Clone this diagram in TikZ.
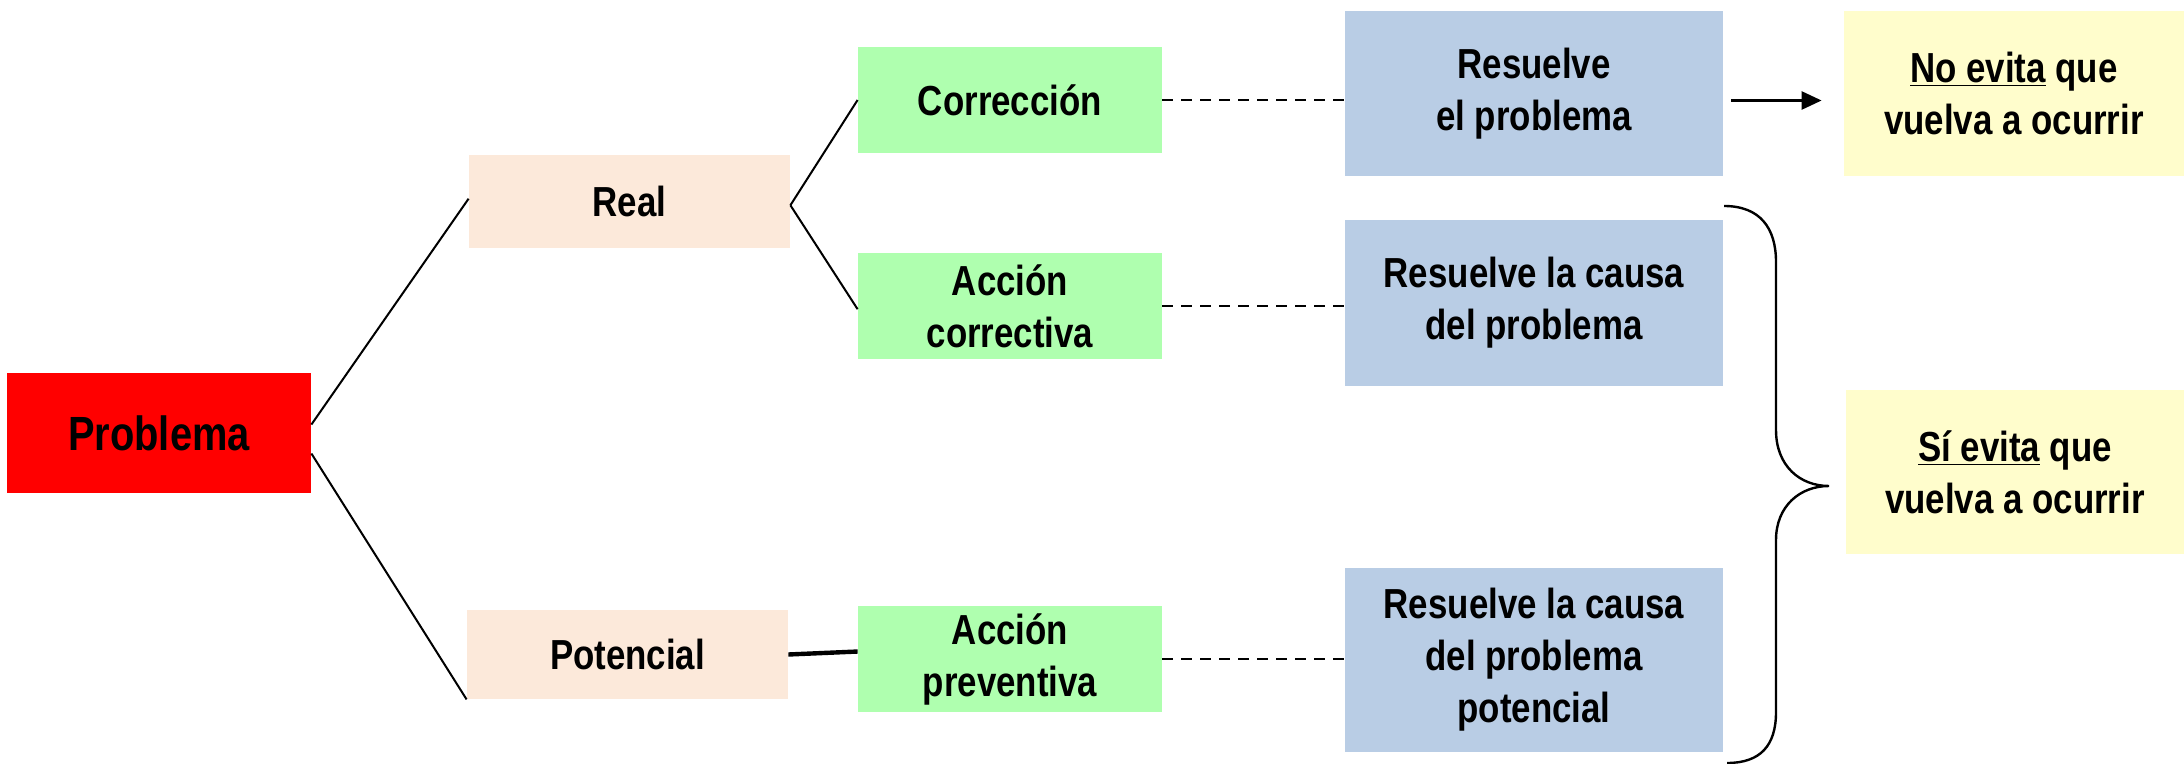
\documentclass[tikz,border=0pt]{standalone}
\usepackage{fontspec}
\setmainfont{Liberation Sans}[FakeStretch=0.83]
\usetikzlibrary{calc,arrows.meta}
\definecolor{cred}{HTML}{FF0000}
\definecolor{cpeach}{HTML}{FCE9DA}
\definecolor{cgreen}{HTML}{AFFFAF}
\definecolor{cblue}{HTML}{B9CDE5}
\definecolor{cyellow}{HTML}{FFFDCC}
\tikzset{
  box/.style={inner sep=0pt, align=center, font=\bfseries\fontsize{21}{26}\selectfont},
  link/.style={line width=1pt, black},
  dotlink/.style={line width=1.4pt, black, dash pattern=on 5.5pt off 4pt},
}
\begin{document}
\begin{tikzpicture}[x=0.5pt,y=-0.5pt]
\useasboundingbox (0,0) rectangle (2184,764);
% nodes
\node[box, fill=cred, minimum width=152pt, minimum height=60pt, font=\bfseries\fontsize{24}{28}\selectfont] (prob) at (159,433) {Problema};
\node[box, fill=cpeach, minimum width=160.5pt, minimum height=46.5pt] (real) at (629.5,201.5) {Real};
\node[box, fill=cpeach, minimum width=160.5pt, minimum height=44.5pt] (pot) at (627.5,654.5) {Potencial};
\node[box, fill=cgreen, minimum width=152pt, minimum height=53pt] (corr) at (1010,100) {Corrección};
\node[box, fill=cgreen, minimum width=152pt, minimum height=53pt] (acor) at (1010,306) {Acción\\correctiva};
\node[box, fill=cgreen, minimum width=152pt, minimum height=53pt] (aprev) at (1010,659) {Acción\\preventiva};
\node[box, fill=cblue, minimum width=189pt, minimum height=82.5pt] (res1) at (1534,93.5) {Resuelve\\el problema};
\node[box, fill=cblue, minimum width=189pt, minimum height=83pt] (res2) at (1534,303) {Resuelve la causa\\del problema};
\node[box, fill=cblue, minimum width=189pt, minimum height=92pt] (res3) at (1534,660) {Resuelve la causa\\del problema\\potencial};
\node[box, fill=cyellow, minimum width=170pt, minimum height=82.5pt] (noev) at (2014,93.5) {\underline{No evita} que\\vuelva a ocurrir};
\node[box, fill=cyellow, minimum width=169pt, minimum height=82pt] (siev) at (2015,472) {\underline{Sí evita} que\\vuelva a ocurrir};
% connectors
\draw[link] ($(prob.north east)!0.43!(prob.south east)$) -- ($(real.north west)!0.47!(real.south west)$);
\draw[link] ($(prob.north east)!0.67!(prob.south east)$) -- (pot.south west);
\coordinate (rj) at ($(real.north east)!0.54!(real.south east)$);
\draw[link] (rj) -- (corr.west);
\draw[link] (rj) -- ($(acor.north west)!0.53!(acor.south west)$);
\draw[line width=2.2pt, black] (pot.east) -- ($(aprev.north west)!0.43!(aprev.south west)$);
\draw[dotlink] (corr.east) -- (corr.east -| res1.west);
\draw[dotlink] (acor.east) -- (acor.east -| res2.west);
\draw[dotlink] (aprev.east) -- (aprev.east -| res3.west);
\coordinate (ast) at ($(res1.east)+(8,7)$);
\coordinate (aen) at ($(noev.west)+(-22,7)$);
\draw[line width=1.3pt, -{Triangle[length=10pt,width=9pt]}] (ast) -- (aen);
% brace
\draw[line width=1.2pt] (1724,206) .. controls (1760,206) and (1776,228) .. (1776,262)
  -- (1776,430) .. controls (1776,466) and (1800,486) .. (1829,486)
  .. controls (1800,486) and (1776,506) .. (1776,540)
  -- (1776,712) .. controls (1776,746) and (1760,763) .. (1727,763);
\end{tikzpicture}
\end{document}
